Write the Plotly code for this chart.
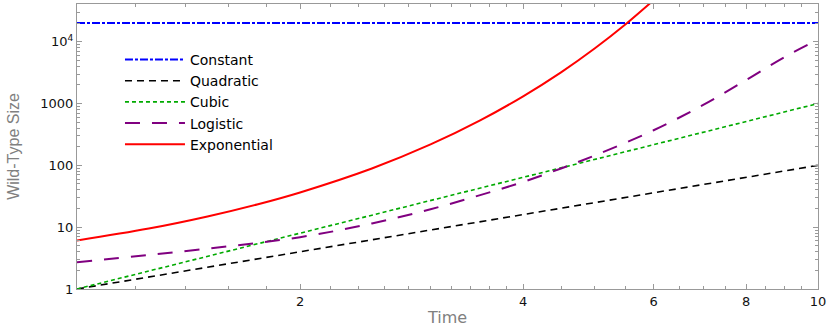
import plotly.graph_objects as go

# ---- data ----
time_pts = [1, 2, 3, 4, 5, 6, 7, 8, 9, 10]
constant_vals = [20000] * 10
quadratic_vals = [1, 4, 9, 16, 25, 36, 49, 64, 81, 100]
cubic_vals = [1, 8, 27, 64, 125, 216, 343, 512, 729, 1000]

logistic_t = [1, 1.5, 2, 2.5, 3, 3.5, 4, 4.5, 5, 6, 7, 8, 9, 10]
logistic_vals = [2.7, 4.5, 6.9, 11.5, 19.5, 33, 54, 89, 145, 370, 950, 2400, 5600, 10800]

exp_t = [1, 1.25, 1.5, 1.75, 2, 2.5, 3, 3.5, 4, 4.5, 5, 5.5, 6]
exp_vals = [6.1, 9.5, 14.9, 23.3, 36.5, 89, 218, 534, 1310, 3200, 7850, 19200, 47000]

y_tickvals = [1, 10, 100, 1000, 10000]
y_ticktext = ["1", "10", "100", "1000", "10<sup>4</sup>"]
x_tickvals = [2, 4, 6, 8, 10]

fig = go.Figure()
fig.add_trace(go.Scatter(x=time_pts, y=constant_vals, name="Constant", mode="lines",
                         line=dict(color="#0000ff", width=2, dash="8px,2px,3px,2px")))
fig.add_trace(go.Scatter(x=time_pts, y=quadratic_vals, name="Quadratic", mode="lines",
                         line=dict(color="#000000", width=1.6, dash="7px,5px")))
fig.add_trace(go.Scatter(x=time_pts, y=cubic_vals, name="Cubic", mode="lines",
                         line=dict(color="#00aa00", width=1.6, dash="4px,3px")))
fig.add_trace(go.Scatter(x=logistic_t, y=logistic_vals, name="Logistic", mode="lines",
                         line=dict(color="#800080", width=2, dash="15px,12px", shape="spline")))
fig.add_trace(go.Scatter(x=exp_t, y=exp_vals, name="Exponential", mode="lines",
                         line=dict(color="#ff0000", width=2, shape="spline")))

axis_common = dict(
    showline=True, linecolor="#999999", linewidth=1, mirror="ticks",
    ticks="inside", tickcolor="#999999", ticklen=5,
    showgrid=False, zeroline=False,
    tickfont=dict(family="DejaVu Sans", size=13, color="#111111"),
)

fig.update_xaxes(type="log", range=[0, 1], tickvals=x_tickvals,
                 title=dict(text="Time", font=dict(family="DejaVu Sans", size=16, color="#808080"),
                            standoff=4),
                 minor=dict(ticks="inside", ticklen=3, tickcolor="#999999",
                            tickvals=[1.2, 1.4, 1.6, 1.8, 2.2, 2.4, 2.6, 2.8, 3, 3.2, 3.4, 3.6, 3.8,
                                      4.5, 5, 5.5, 6.5, 7, 7.5, 8.5, 9, 9.5]),
                 **axis_common)
fig.update_yaxes(type="log", range=[0, 4.61], tickvals=y_tickvals, ticktext=y_ticktext,
                 title=dict(text="Wild-Type Size",
                            font=dict(family="Liberation Sans Narrow, Liberation Sans", size=16,
                                      color="#808080"),
                            standoff=16),
                 minor=dict(ticks="inside", ticklen=3, tickcolor="#999999",
                            tickvals=[v * m for v in [1, 10, 100, 1000, 10000]
                                      for m in [2, 3, 4, 5, 6, 7, 8, 9] if v * m < 40000]),
                 **axis_common)

fig.update_layout(
    width=830, height=327,
    margin=dict(l=77, r=12, t=3, b=37),
    plot_bgcolor="white", paper_bgcolor="white",
    legend=dict(x=0.058, y=0.86, xanchor="left", yanchor="top",
                bgcolor="rgba(0,0,0,0)", itemwidth=60,
                font=dict(family="DejaVu Sans", size=14, color="#000000"),
                tracegroupgap=0),
    showlegend=True,
)

fig.write_html("out.html", config={"displayModeBar": False},
               post_script="document.body.style.margin='0';")
